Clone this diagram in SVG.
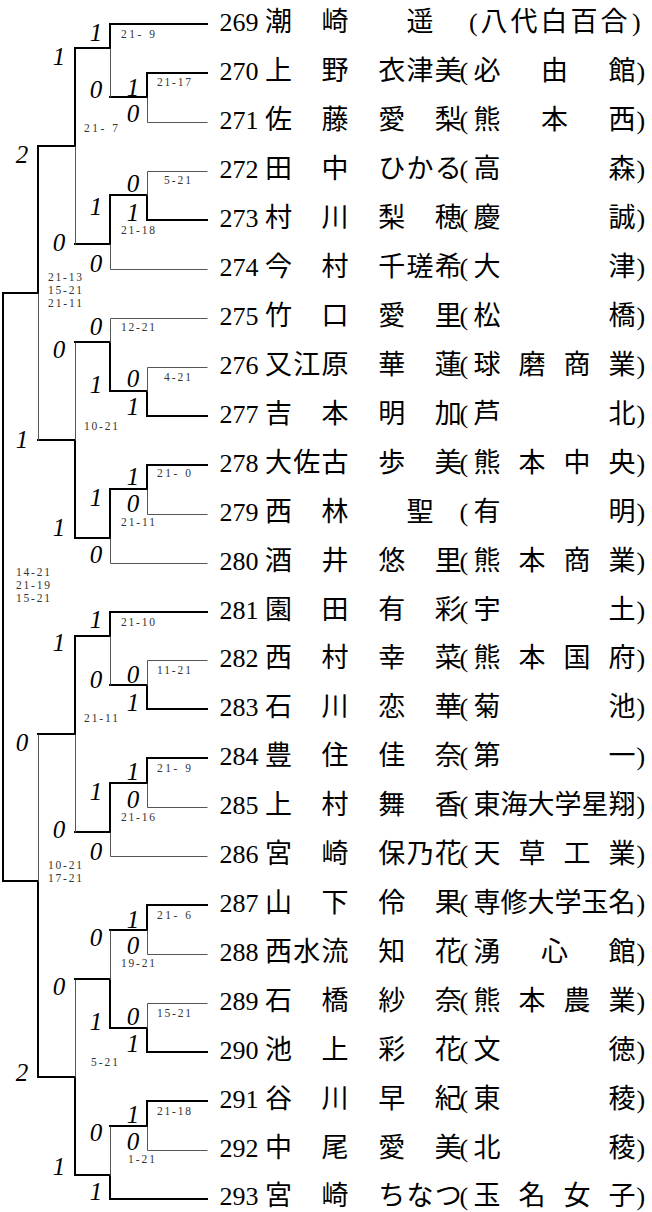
<svg xmlns="http://www.w3.org/2000/svg" width="652" height="1212" viewBox="0 0 652 1212">
<style>
.w{fill:none;stroke:#000;stroke-width:2;stroke-linecap:square;stroke-linejoin:miter}
.l{fill:none;stroke:#555;stroke-width:1}
.t{font-family:"Liberation Serif","Noto Sans CJK JP",serif;font-size:26px;fill:#000}
.j{font-family:"Noto Sans CJK JP","Liberation Serif",sans-serif;font-size:27px}
.r{font-family:"Liberation Serif",serif;font-style:italic;font-size:25px;text-anchor:middle;fill:#000}
.s{font-family:"Liberation Serif",serif;font-size:11.5px;fill:#333}
</style>
<rect width="652" height="1212" fill="#fff"/>
<g id="connectors">
 <g id="wins" class="w">
  <path d="M207 24H110V48H75V146H38V293H3"/>
  <path d="M3 293V881"/>
  <path d="M207 73H147V97H110"/>
  <path d="M207 220H147V195H110V244H75"/>
  <path d="M207 416H147V391H110V342H75"/>
  <path d="M207 465H147V489H110V538H75V440H38"/>
  <path d="M207 612H110V636H75V734H38"/>
  <path d="M207 709H147V685H110"/>
  <path d="M207 758H147V783H110V832H75"/>
  <path d="M207 905H147V930H110"/>
  <path d="M207 1052H147V1028H110V979H75"/>
  <path d="M207 1101H147V1126H110"/>
  <path d="M207 1199H110V1175H75V1077H38V881H3"/>
 </g>
 <g id="losses" class="l" transform="translate(0.5 0.5)">
  <path d="M207 122H147V97"/>
  <path d="M110 97V48"/>
  <path d="M207 171H147V195"/>
  <path d="M207 269H110V244"/>
  <path d="M75 244V146"/>
  <path d="M207 318H110V342"/>
  <path d="M207 367H147V391"/>
  <path d="M75 342V440"/>
  <path d="M207 514H147V489"/>
  <path d="M207 563H110V538"/>
  <path d="M38 440V293"/>
  <path d="M207 660H147V685"/>
  <path d="M110 685V636"/>
  <path d="M207 807H147V783"/>
  <path d="M207 856H110V832"/>
  <path d="M75 832V734"/>
  <path d="M38 734V881"/>
  <path d="M207 954H147V930"/>
  <path d="M207 1003H147V1028"/>
  <path d="M110 930V979"/>
  <path d="M207 1150H147V1126"/>
  <path d="M110 1126V1175"/>
  <path d="M75 979V1077"/>
 </g>
</g>
<g id="results" class="r">
 <text x="96" y="41">1</text><text x="96" y="98">0</text>
 <text x="96" y="215">1</text><text x="96" y="272">0</text>
 <text x="96" y="335">0</text><text x="96" y="393">1</text>
 <text x="96" y="506">1</text><text x="96" y="563">0</text>
 <text x="96" y="628">1</text><text x="96" y="688">0</text>
 <text x="96" y="800">1</text><text x="96" y="860">0</text>
 <text x="96" y="946">0</text><text x="96" y="1030">1</text>
 <text x="96" y="1141">0</text><text x="96" y="1200">1</text>
 <text x="133" y="96">1</text><text x="133" y="122">0</text>
 <text x="133" y="192">0</text><text x="133" y="221">1</text>
 <text x="133" y="387">0</text><text x="133" y="415">1</text>
 <text x="133" y="485">1</text><text x="133" y="512">0</text>
 <text x="133" y="683">0</text><text x="133" y="711">1</text>
 <text x="133" y="780">1</text><text x="133" y="808">0</text>
 <text x="133" y="928">1</text><text x="133" y="954">0</text>
 <text x="133" y="1025">0</text><text x="133" y="1052">1</text>
 <text x="133" y="1123">1</text><text x="133" y="1150">0</text>
 <text x="59" y="65">1</text><text x="59" y="251">0</text>
 <text x="59" y="358">0</text><text x="59" y="536">1</text>
 <text x="59" y="651">1</text><text x="59" y="838">0</text>
 <text x="59" y="995">0</text><text x="59" y="1175">1</text>
 <text x="22" y="163">2</text><text x="22" y="448">1</text>
 <text x="22" y="751">0</text><text x="22" y="1081">2</text>
</g>
<g id="scores" class="s" lengthAdjust="spacing">
 <text x="121" y="37.8" textLength="34">21- 9</text>
 <text x="157" y="85.8" textLength="34">21-17</text>
 <text x="84" y="131.8" textLength="34">21- 7</text>
 <text x="164" y="183.8" textLength="27">5-21</text>
 <text x="121" y="233.8" textLength="34">21-18</text>
 <text x="48" y="280.8" textLength="34">21-13</text>
 <text x="48" y="293.8" textLength="34">15-21</text>
 <text x="48" y="306.8" textLength="34">21-11</text>
 <text x="121" y="330.8" textLength="34">12-21</text>
 <text x="164" y="380.8" textLength="27">4-21</text>
 <text x="84" y="429.8" textLength="34">10-21</text>
 <text x="157" y="476.8" textLength="34">21- 0</text>
 <text x="121" y="525.8" textLength="34">21-11</text>
 <text x="16" y="575.8" textLength="34">14-21</text>
 <text x="16" y="588.8" textLength="34">21-19</text>
 <text x="16" y="601.8" textLength="34">15-21</text>
 <text x="121" y="625.8" textLength="34">21-10</text>
 <text x="157" y="673.8" textLength="34">11-21</text>
 <text x="84" y="721.8" textLength="34">21-11</text>
 <text x="157" y="771.8" textLength="34">21- 9</text>
 <text x="121" y="820.8" textLength="34">21-16</text>
 <text x="48" y="868.8" textLength="34">10-21</text>
 <text x="48" y="881.8" textLength="34">17-21</text>
 <text x="157" y="918.8" textLength="34">21- 6</text>
 <text x="121" y="966.8" textLength="34">19-21</text>
 <text x="157" y="1016.8" textLength="34">15-21</text>
 <text x="91" y="1065.8" textLength="27">5-21</text>
 <text x="157" y="1114.8" textLength="34">21-18</text>
 <text x="128" y="1162.8" textLength="27">1-21</text>
</g>
<g id="players" class="t">
 <g id="p269"><text y="31"><tspan x="219.5">269 </tspan><tspan class="j" x="265 293.3 321.6 349.9 378.2 406.5 434.8">潮　崎　　遥　</tspan><tspan x="469">(</tspan><tspan class="j" x="480.5 510.5 540.5 570.5 600.5">八代白百合</tspan><tspan x="632">)</tspan></text></g>
 <g id="p270"><text y="80"><tspan x="219.5">270 </tspan><tspan class="j" x="265 293.3 321.6 349.9 378.2 406.5 434.8">上　野　衣津美</tspan><tspan x="459.5">(</tspan><tspan class="j" x="473.5 541 608.5">必由館</tspan><tspan x="636.5">)</tspan></text></g>
 <g id="p271"><text y="129"><tspan x="219.5">271 </tspan><tspan class="j" x="265 293.3 321.6 349.9 378.2 406.5 434.8">佐　藤　愛　梨</tspan><tspan x="459.5">(</tspan><tspan class="j" x="473.5 541 608.5">熊本西</tspan><tspan x="636.5">)</tspan></text></g>
 <g id="p272"><text y="178"><tspan x="219.5">272 </tspan><tspan class="j" x="265 293.3 321.6 349.9 378.2 406.5 434.8">田　中　ひかる</tspan><tspan x="459.5">(</tspan><tspan class="j" x="473.5 608.5">高森</tspan><tspan x="636.5">)</tspan></text></g>
 <g id="p273"><text y="227"><tspan x="219.5">273 </tspan><tspan class="j" x="265 293.3 321.6 349.9 378.2 406.5 434.8">村　川　梨　穂</tspan><tspan x="459.5">(</tspan><tspan class="j" x="473.5 608.5">慶誠</tspan><tspan x="636.5">)</tspan></text></g>
 <g id="p274"><text y="276"><tspan x="219.5">274 </tspan><tspan class="j" x="265 293.3 321.6 349.9 378.2 406.5 434.8">今　村　千瑳希</tspan><tspan x="459.5">(</tspan><tspan class="j" x="473.5 608.5">大津</tspan><tspan x="636.5">)</tspan></text></g>
 <g id="p275"><text y="325"><tspan x="219.5">275 </tspan><tspan class="j" x="265 293.3 321.6 349.9 378.2 406.5 434.8">竹　口　愛　里</tspan><tspan x="459.5">(</tspan><tspan class="j" x="473.5 608.5">松橋</tspan><tspan x="636.5">)</tspan></text></g>
 <g id="p276"><text y="374"><tspan x="219.5">276 </tspan><tspan class="j" x="265 293.3 321.6 349.9 378.2 406.5 434.8">又江原　華　蓮</tspan><tspan x="459.5">(</tspan><tspan class="j" x="473.5 518.5 563.5 608.5">球磨商業</tspan><tspan x="636.5">)</tspan></text></g>
 <g id="p277"><text y="423"><tspan x="219.5">277 </tspan><tspan class="j" x="265 293.3 321.6 349.9 378.2 406.5 434.8">吉　本　明　加</tspan><tspan x="459.5">(</tspan><tspan class="j" x="473.5 608.5">芦北</tspan><tspan x="636.5">)</tspan></text></g>
 <g id="p278"><text y="472"><tspan x="219.5">278 </tspan><tspan class="j" x="265 293.3 321.6 349.9 378.2 406.5 434.8">大佐古　歩　美</tspan><tspan x="459.5">(</tspan><tspan class="j" x="473.5 518.5 563.5 608.5">熊本中央</tspan><tspan x="636.5">)</tspan></text></g>
 <g id="p279"><text y="521"><tspan x="219.5">279 </tspan><tspan class="j" x="265 293.3 321.6 349.9 378.2 406.5 434.8">西　林　　聖　</tspan><tspan x="459.5">(</tspan><tspan class="j" x="473.5 608.5">有明</tspan><tspan x="636.5">)</tspan></text></g>
 <g id="p280"><text y="570"><tspan x="219.5">280 </tspan><tspan class="j" x="265 293.3 321.6 349.9 378.2 406.5 434.8">酒　井　悠　里</tspan><tspan x="459.5">(</tspan><tspan class="j" x="473.5 518.5 563.5 608.5">熊本商業</tspan><tspan x="636.5">)</tspan></text></g>
 <g id="p281"><text y="619"><tspan x="219.5">281 </tspan><tspan class="j" x="265 293.3 321.6 349.9 378.2 406.5 434.8">園　田　有　彩</tspan><tspan x="459.5">(</tspan><tspan class="j" x="473.5 608.5">宇土</tspan><tspan x="636.5">)</tspan></text></g>
 <g id="p282"><text y="667"><tspan x="219.5">282 </tspan><tspan class="j" x="265 293.3 321.6 349.9 378.2 406.5 434.8">西　村　幸　菜</tspan><tspan x="459.5">(</tspan><tspan class="j" x="473.5 518.5 563.5 608.5">熊本国府</tspan><tspan x="636.5">)</tspan></text></g>
 <g id="p283"><text y="716"><tspan x="219.5">283 </tspan><tspan class="j" x="265 293.3 321.6 349.9 378.2 406.5 434.8">石　川　恋　華</tspan><tspan x="459.5">(</tspan><tspan class="j" x="473.5 608.5">菊池</tspan><tspan x="636.5">)</tspan></text></g>
 <g id="p284"><text y="765"><tspan x="219.5">284 </tspan><tspan class="j" x="265 293.3 321.6 349.9 378.2 406.5 434.8">豊　住　佳　奈</tspan><tspan x="459.5">(</tspan><tspan class="j" x="473.5 608.5">第一</tspan><tspan x="636.5">)</tspan></text></g>
 <g id="p285"><text y="814"><tspan x="219.5">285 </tspan><tspan class="j" x="265 293.3 321.6 349.9 378.2 406.5 434.8">上　村　舞　香</tspan><tspan x="459.5">(</tspan><tspan class="j" x="473.5 500.5 527.5 554.5 581.5 608.5">東海大学星翔</tspan><tspan x="636.5">)</tspan></text></g>
 <g id="p286"><text y="863"><tspan x="219.5">286 </tspan><tspan class="j" x="265 293.3 321.6 349.9 378.2 406.5 434.8">宮　崎　保乃花</tspan><tspan x="459.5">(</tspan><tspan class="j" x="473.5 518.5 563.5 608.5">天草工業</tspan><tspan x="636.5">)</tspan></text></g>
 <g id="p287"><text y="912"><tspan x="219.5">287 </tspan><tspan class="j" x="265 293.3 321.6 349.9 378.2 406.5 434.8">山　下　伶　果</tspan><tspan x="459.5">(</tspan><tspan class="j" x="473.5 500.5 527.5 554.5 581.5 608.5">専修大学玉名</tspan><tspan x="636.5">)</tspan></text></g>
 <g id="p288"><text y="961"><tspan x="219.5">288 </tspan><tspan class="j" x="265 293.3 321.6 349.9 378.2 406.5 434.8">西水流　知　花</tspan><tspan x="459.5">(</tspan><tspan class="j" x="473.5 541 608.5">湧心館</tspan><tspan x="636.5">)</tspan></text></g>
 <g id="p289"><text y="1010"><tspan x="219.5">289 </tspan><tspan class="j" x="265 293.3 321.6 349.9 378.2 406.5 434.8">石　橋　紗　奈</tspan><tspan x="459.5">(</tspan><tspan class="j" x="473.5 518.5 563.5 608.5">熊本農業</tspan><tspan x="636.5">)</tspan></text></g>
 <g id="p290"><text y="1059"><tspan x="219.5">290 </tspan><tspan class="j" x="265 293.3 321.6 349.9 378.2 406.5 434.8">池　上　彩　花</tspan><tspan x="459.5">(</tspan><tspan class="j" x="473.5 608.5">文徳</tspan><tspan x="636.5">)</tspan></text></g>
 <g id="p291"><text y="1108"><tspan x="219.5">291 </tspan><tspan class="j" x="265 293.3 321.6 349.9 378.2 406.5 434.8">谷　川　早　紀</tspan><tspan x="459.5">(</tspan><tspan class="j" x="473.5 608.5">東稜</tspan><tspan x="636.5">)</tspan></text></g>
 <g id="p292"><text y="1157"><tspan x="219.5">292 </tspan><tspan class="j" x="265 293.3 321.6 349.9 378.2 406.5 434.8">中　尾　愛　美</tspan><tspan x="459.5">(</tspan><tspan class="j" x="473.5 608.5">北稜</tspan><tspan x="636.5">)</tspan></text></g>
 <g id="p293"><text y="1205"><tspan x="219.5">293 </tspan><tspan class="j" x="265 293.3 321.6 349.9 378.2 406.5 434.8">宮　崎　ちなつ</tspan><tspan x="459.5">(</tspan><tspan class="j" x="473.5 518.5 563.5 608.5">玉名女子</tspan><tspan x="636.5">)</tspan></text></g>
</g>
</svg>
